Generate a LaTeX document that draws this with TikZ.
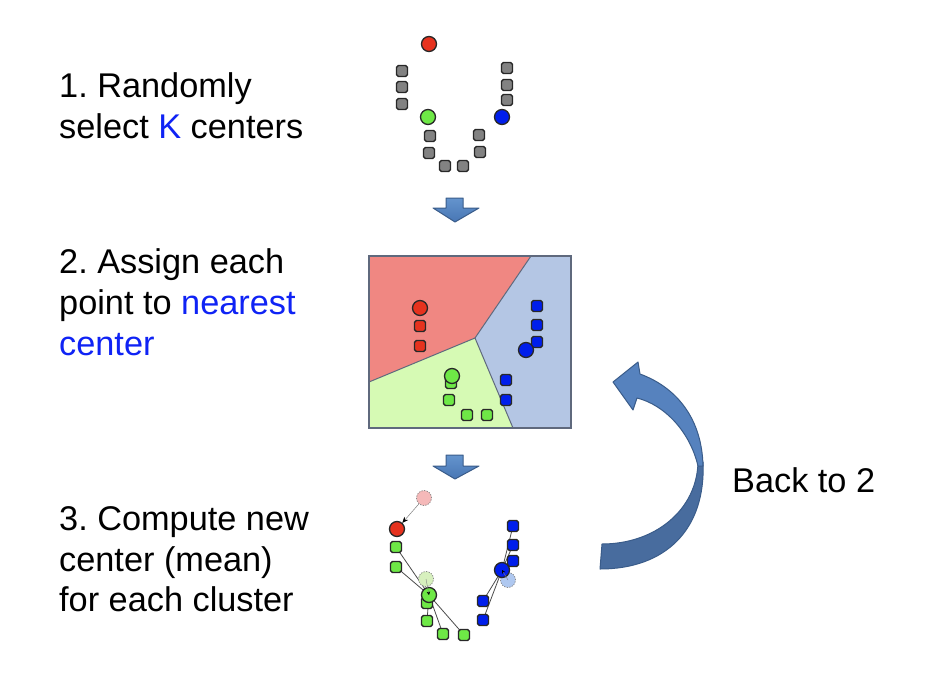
\documentclass[tikz,border=0pt]{standalone}
\usepackage{fontspec}
\setmainfont{Liberation Sans}
\usetikzlibrary{arrows.meta}
\pgfdeclarelayer{bg}
\pgfsetlayers{bg,main}
\frenchspacing
\definecolor{kblue}{RGB}{15,35,245}
\definecolor{ptedge}{RGB}{40,40,40}
\definecolor{grayfill}{RGB}{130,130,130}
\definecolor{redc}{RGB}{230,50,30}
\definecolor{greenc}{RGB}{110,232,70}
\definecolor{bluec}{RGB}{0,30,235}
\definecolor{redreg}{RGB}{240,135,130}
\definecolor{bluereg}{RGB}{180,198,228}
\definecolor{greenreg}{RGB}{214,250,180}
\definecolor{regedge}{RGB}{95,105,125}
\definecolor{redghost}{RGB}{245,185,185}
\definecolor{greenghost}{RGB}{215,240,190}
\definecolor{blueghost}{RGB}{175,200,240}
\definecolor{arrtop}{RGB}{100,148,205}
\definecolor{arrbot}{RGB}{72,118,180}
\definecolor{arredge}{RGB}{58,92,138}
\definecolor{bandup}{RGB}{86,130,190}
\definecolor{banddown}{RGB}{72,108,158}
\begin{document}
\begin{tikzpicture}[x=1pt,y=-1pt,
  txt/.style={anchor=base west, inner sep=0pt, font=\fontsize{34.3}{40}\selectfont},
  pt/.style={rectangle, minimum size=11pt, inner sep=0pt, rounded corners=1.8pt, draw=ptedge, line width=1.4pt},
  ctr/.style={circle, minimum size=15pt, inner sep=0pt, draw=ptedge, line width=1.3pt},
  ghost/.style={circle, minimum size=15pt, inner sep=0pt, draw=gray, line width=0.7pt, dash pattern=on 1.3pt off 1.3pt},
  link/.style={draw=black!70, line width=0.8pt},
  mv/.style={draw=black!50, line width=0.5pt, -{Stealth[length=6pt,width=5pt,black]}},
  bigarrow/.style={top color=arrtop, bottom color=arrbot, draw=arredge, line width=1pt, line join=round}
]
\useasboundingbox (0,0) rectangle (934,682);
\begin{pgfonlayer}{bg}
\fill[white] (0,0) rectangle (934,682);
\end{pgfonlayer}

% ---------- text ----------
\node[txt] (t1a) at (59,98) {1. Randomly};
\node[txt] (t1b) at (59,139) {select \textcolor{kblue}{K} centers};
\node[txt] (t2a) at (59,273) {2. Assign each};
\node[txt] (t2b) at (59,314) {point to \textcolor{kblue}{nearest}};
\node[txt] (t2c) at (59,355) {\textcolor{kblue}{center}};
\node[txt] (t3a) at (59,530) {3. Compute new};
\node[txt] (t3b) at (59,571) {center (mean)};
\node[txt] (t3c) at (59,611) {for each cluster};
\node[txt] (back) at (732,492) {Back to 2};

% ---------- step 1 ----------
\foreach \n/\x/\y in {a1/402/71,a2/402/87,a3/402/104,a4/507/68,a5/507/85,a6/507/100,
  a7/430/136,a8/429/153,a9/445/166,a10/463/166,a11/479/135,a12/480/152}
  \node[pt, fill=grayfill] (\n) at (\x,\y) {};
\node[ctr, fill=redc] (c1r) at (429,44) {};
\node[ctr, fill=greenc] (c1g) at (428,117) {};
\node[ctr, fill=bluec] (c1b) at (502,117) {};

% ---------- down arrows ----------
\path[bigarrow] (446,198) -- (463,198) -- (463,208) -- (479,208) -- (455,222) -- (433,208) -- (446,208) -- cycle;
\path[bigarrow] (446,455) -- (463,455) -- (463,466) -- (479,466) -- (455,479) -- (433,466) -- (446,466) -- cycle;

% ---------- step 2 ----------
\fill[redreg] (369,256) -- (531,256) -- (475,338) -- (369,382) -- cycle;
\fill[bluereg] (531,256) -- (571,256) -- (571,428) -- (513,428) -- (475,338) -- cycle;
\fill[greenreg] (369,382) -- (475,338) -- (513,428) -- (369,428) -- cycle;
\draw[regedge, line width=1pt] (531,256) -- (475,338) -- (369,382);
\draw[regedge, line width=1pt] (475,338) -- (513,428);
\draw[regedge, line width=1.2pt] (369,256) rectangle (571,428);
\foreach \n/\x/\y in {r1/420/326,r2/420/346}
  \node[pt, fill=redc] (\n) at (\x,\y) {};
\foreach \n/\x/\y in {b1/537/306,b2/537/325,b3/537/342,b4/506/380,b5/506/400}
  \node[pt, fill=bluec] (\n) at (\x,\y) {};
\foreach \n/\x/\y in {g0/451/383,g1/449/400,g2/467/415,g3/487/415}
  \node[pt, fill=greenc] (\n) at (\x,\y) {};
\node[ctr, fill=redc] (c2r) at (420,308) {};
\node[ctr, fill=bluec] (c2b) at (526,350) {};
\node[ctr, fill=greenc] (c2g) at (452,376) {};

% ---------- step 3 ----------
\node[ghost, fill=redghost] (o3r) at (424,498) {};
\node[ghost, fill=greenghost] (o3g) at (426,579) {};
\node[ghost, fill=blueghost] (o3b) at (508,580) {};
\foreach \n/\x/\y in {q1/396/547,q2/396/567,q0/427/603,q3/427/621,q4/443/634,q5/464/635}
  \node[pt, fill=greenc] (\n) at (\x,\y) {};
\foreach \n/\x/\y in {p1/513/526,p2/513/545,p3/513/561,p4/483/601,p5/483/620}
  \node[pt, fill=bluec] (\n) at (\x,\y) {};
\node[ctr, fill=redc] (c3r) at (397,529) {};
\node[ctr, fill=greenc] (c3g) at (429,595) {};
\node[ctr, fill=bluec] (c3b) at (502,570) {};
\begin{pgfonlayer}{bg}
  \foreach \q in {q1,q2,q3,q4,q5} \draw[link] (\q.center) -- (c3g.center);
  \foreach \p in {p1,p2,p3,p4,p5} \draw[link] (\p.center) -- (c3b.center);
\end{pgfonlayer}
\draw[mv] (o3r) -- (c3r);
\draw[mv, line width=0.4pt, -{Stealth[length=3.5pt,width=3.5pt,black]}] (o3g.center) -- (c3g.center);
\draw[mv, line width=0.4pt, -{Stealth[length=3.5pt,width=3.5pt,black]}] (o3b.center) -- (c3b.center);

% ---------- curved arrow (Back to 2) ----------
\path[fill=banddown, draw=arredge, line width=1pt, line join=round]
  (698,462) .. controls (697,510) and (655,544) .. (602,544)
  -- (600,569) .. controls (665,569) and (706,530) .. (703,462) -- cycle;
\path[fill=bandup, draw=arredge, line width=1pt, line join=round]
  (640,374) .. controls (678,388) and (702,420) .. (703,466)
  -- (698,466) .. controls (690,432) and (665,405) .. (637,398)
  -- (633,410) -- (613,382) -- (638,362) -- cycle;
\end{tikzpicture}
\end{document}
